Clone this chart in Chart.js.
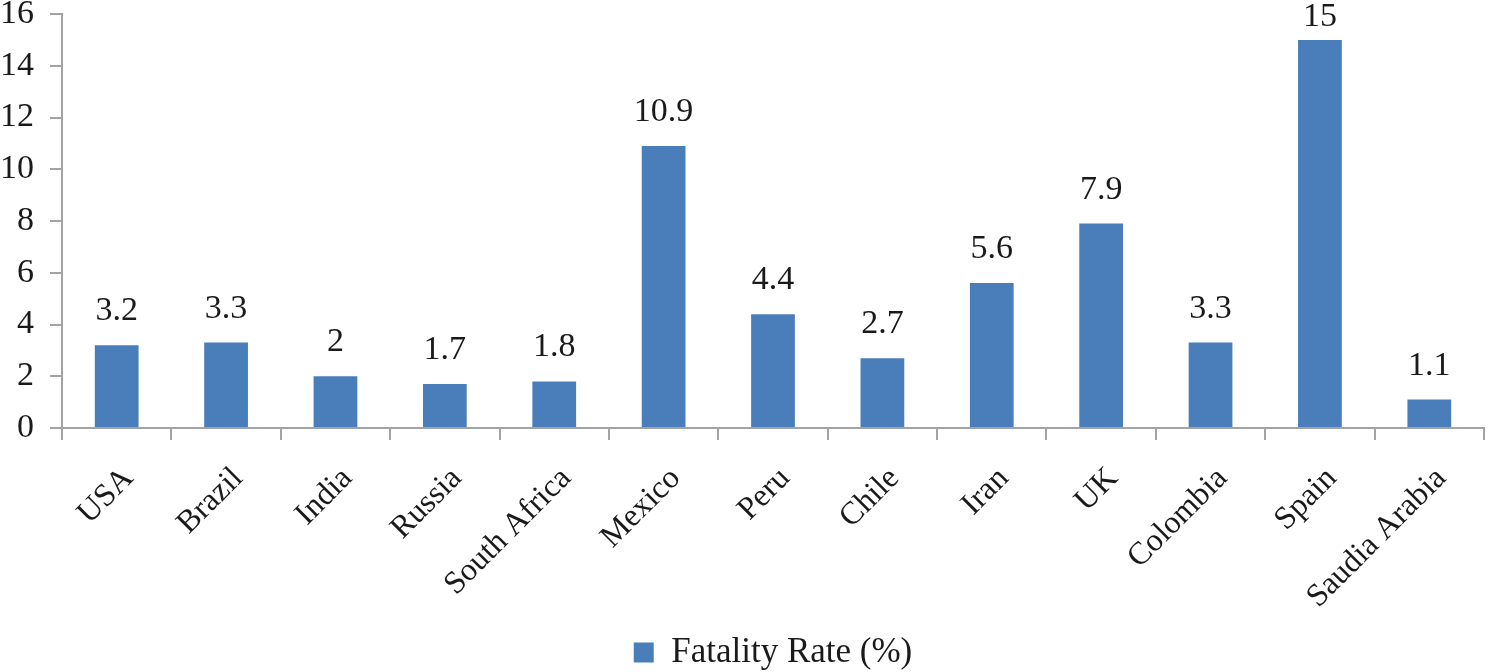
<!DOCTYPE html>
<html>
<head>
<meta charset="utf-8">
<script src="https://cdn.jsdelivr.net/npm/chart.js@4.4.0/dist/chart.umd.min.js"></script>
<style>
  html, body { margin: 0; padding: 0; background: #fff; }
  #wrap { width: 1489px; height: 672px; position: relative; }
</style>
</head>
<body>
<div id="wrap"><canvas id="chart"></canvas></div>
<script>
// Data
const countries = ['USA', 'Brazil', 'India', 'Russia', 'South Africa', 'Mexico', 'Peru',
    'Chile', 'Iran', 'UK', 'Colombia', 'Spain', 'Saudia Arabia'];
const fatalityRates = [3.2, 3.3, 2, 1.7, 1.8, 10.9, 4.4, 2.7, 5.6, 7.9, 3.3, 15, 1.1];
const yTicks = [0, 2, 4, 6, 8, 10, 12, 14, 16];
const seriesName = 'Fatality Rate (%)';

const barBlue = '#4a7ebb';
const axisGrey = '#a3a3a3';
const textColor = '#1a1a1a';
const serif = '"Liberation Serif", "Times New Roman", serif';

// Value labels above the bars
const valueLabels = {
    id: 'valueLabels',
    afterDatasetsDraw(chart) {
        const ctx = chart.ctx;
        const meta = chart.getDatasetMeta(0);
        ctx.save();
        ctx.font = '34px ' + serif;
        ctx.fillStyle = textColor;
        ctx.textAlign = 'center';
        ctx.textBaseline = 'alphabetic';
        meta.data.forEach((bar, i) => {
            const y = Math.max(bar.y - 25, 26);  // keep the top label inside the canvas
            ctx.fillText(String(fatalityRates[i]), bar.x, y);
        });
        ctx.restore();
    }
};

new Chart(document.getElementById('chart'), {
    type: 'bar',
    data: {
        labels: countries,
        datasets: [{
            label: seriesName,
            data: fatalityRates,
            backgroundColor: barBlue,
            borderWidth: 0,
            barPercentage: 0.4,
            categoryPercentage: 1.0
        }]
    },
    plugins: [valueLabels],
    options: {
        responsive: true,
        maintainAspectRatio: false,
        animation: false,
        layout: { padding: { top: 14, right: 5, left: 0, bottom: -8 } },
        scales: {
            y: {
                min: 0,
                max: 16,
                afterBuildTicks: s => { s.ticks = yTicks.map(v => ({ value: v })); },
                afterFit: s => { s.width = 62; s.paddingTop = 0; s.paddingBottom = 0; },
                border: { color: axisGrey, width: 2 },
                grid: { drawOnChartArea: false, tickLength: 12, color: axisGrey, lineWidth: 2 },
                ticks: { padding: 16, color: textColor, font: { family: serif, size: 34 } }
            },
            x: {
                afterFit: s => { s.height = 204; s.paddingLeft = 0; s.paddingRight = 0; },
                border: { color: axisGrey, width: 2 },
                grid: { drawOnChartArea: false, tickLength: 12, color: axisGrey, lineWidth: 2, offset: true },
                ticks: {
                    minRotation: 45,
                    maxRotation: 45,
                    padding: 20,
                    labelOffset: 12,
                    autoSkip: false,
                    color: textColor,
                    font: { family: serif, size: 32 }
                }
            }
        },
        plugins: {
            legend: {
                position: 'bottom',
                fullSize: false,
                labels: {
                    boxWidth: 20,
                    boxHeight: 20,
                    padding: 3,
                    color: textColor,
                    font: { family: serif, size: 35, lineHeight: 1.0 }
                }
            },
            tooltip: { enabled: false }
        }
    }
});
</script>
</body>
</html>
